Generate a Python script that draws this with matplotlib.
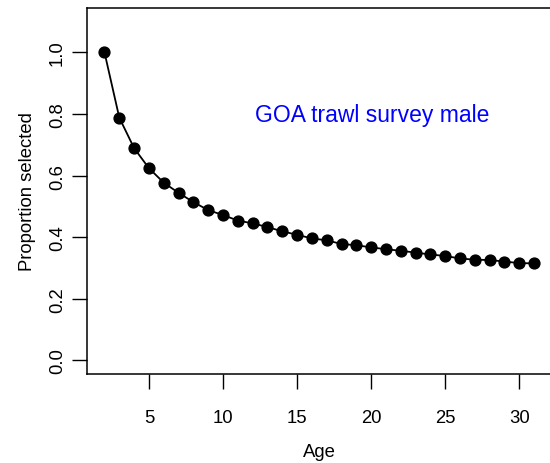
import matplotlib
matplotlib.use("Agg")
import matplotlib.pyplot as plt

ages = list(range(2, 32))
selectivity = [1.000, 0.788, 0.689, 0.624, 0.577, 0.544, 0.514, 0.488, 0.472, 0.454,
               0.445, 0.433, 0.419, 0.408, 0.396, 0.390, 0.378, 0.374, 0.367, 0.361,
               0.356, 0.350, 0.344, 0.339, 0.331, 0.327, 0.326, 0.321, 0.316, 0.315]
x_ticks = [5, 10, 15, 20, 25, 30]
y_ticks = [0.0, 0.2, 0.4, 0.6, 0.8, 1.0]
title_text = "GOA trawl survey male"

plt.rcParams['font.family'] = ['Liberation Sans', 'DejaVu Sans']

W, H = 550, 464
fig = plt.figure(figsize=(W / 100, H / 100), dpi=100)
left, right, top, bottom = 87.3, 551.3, 9, 375
ax = fig.add_axes([left / W, (H - bottom) / H, (right - left) / W, (bottom - top) / H])

ax.plot(ages, selectivity, color='black', linewidth=1.3, marker='o', markersize=7.8,
        markerfacecolor='black', markeredgecolor='black')

ax.set_xlim(0.84, 32.16)
ax.set_ylim(-0.044, 1.144)
ax.set_xticks(x_ticks)
ax.set_yticks(y_ticks)
ax.set_yticklabels([f"{v:.1f}" for v in y_ticks], rotation=90, va='center')
ax.tick_params(axis='both', direction='out', length=10.5, width=1, labelsize=13.3,
               pad=5, color='black')
ax.tick_params(axis='x', pad=15)
for s in ax.spines.values():
    s.set_linewidth(1.1)

ax.set_xlabel("Age", fontsize=13.3, labelpad=12)
ax.set_ylabel("Proportion selected", fontsize=13.3, labelpad=9)

ax.text(20.1, 0.798, title_text, color='#0000ff', fontsize=16.5, ha='center', va='center')

fig.savefig("out.png", dpi=100)
